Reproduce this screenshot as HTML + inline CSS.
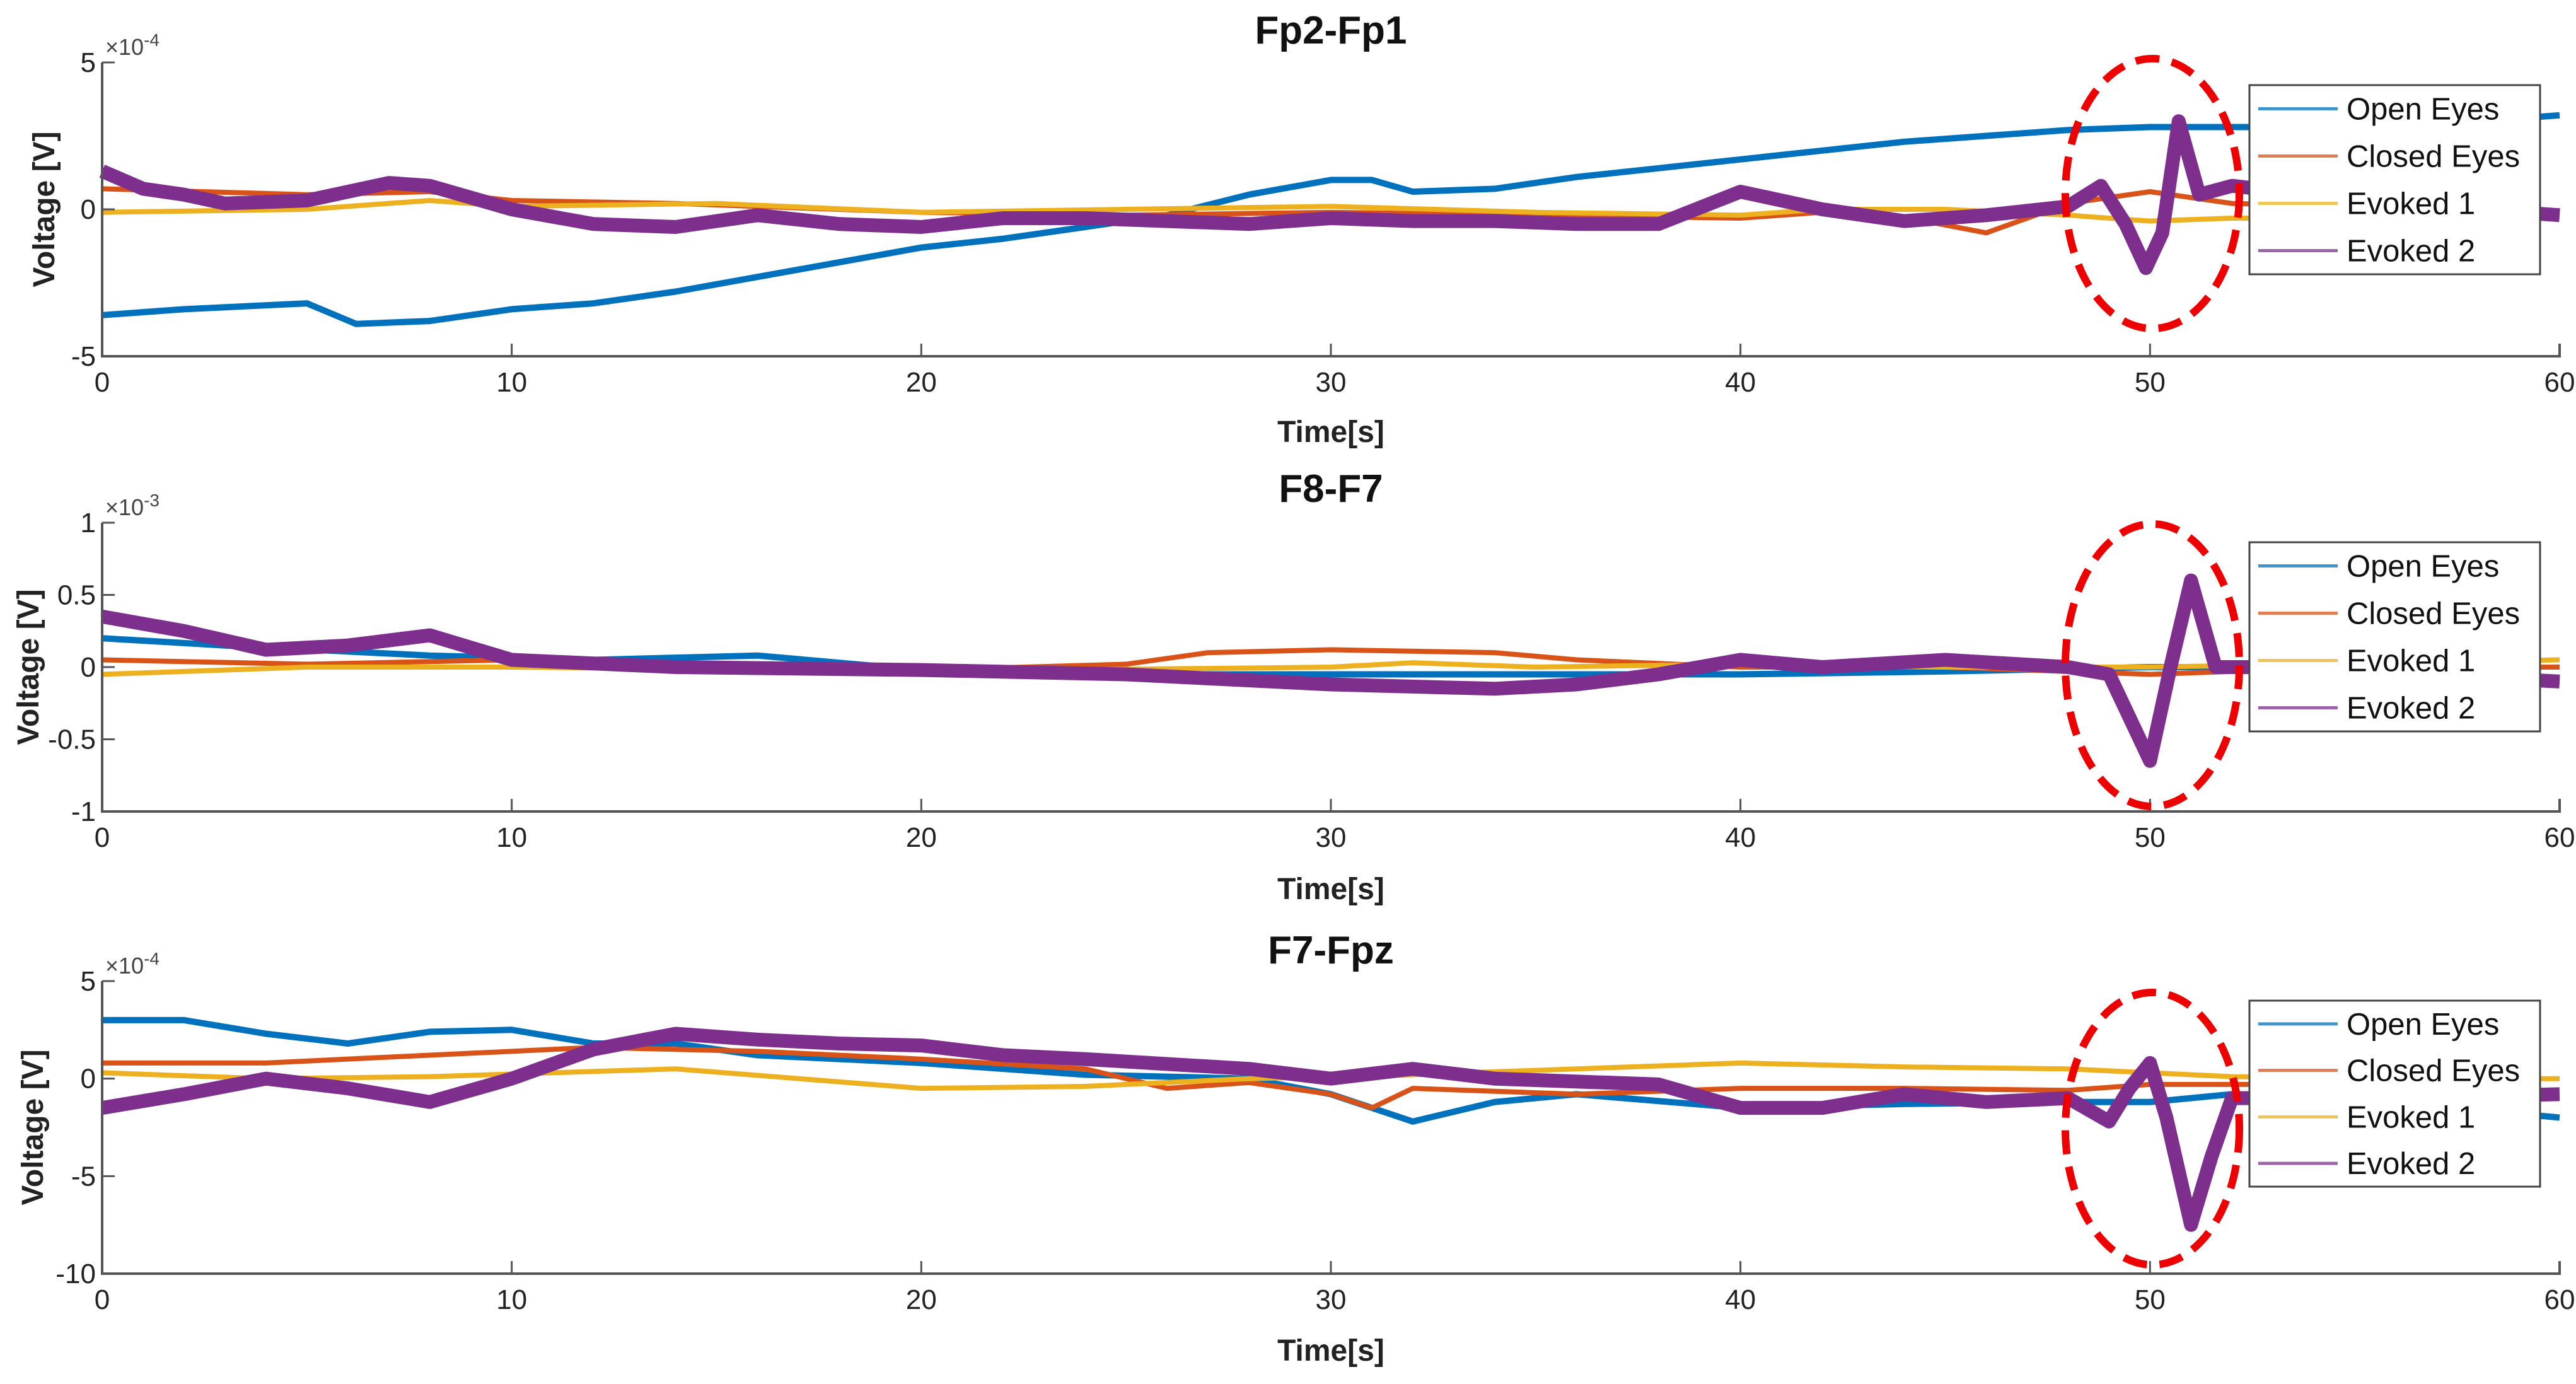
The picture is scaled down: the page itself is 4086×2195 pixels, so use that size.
<!DOCTYPE html>
<html><head><meta charset="utf-8"><style>
html,body{margin:0;padding:0;background:#fff}
svg{display:block;font-family:"Liberation Sans",sans-serif}
</style></head><body>
<svg id="c" width="4086" height="2195" viewBox="0 0 4086 2195"></svg>
<script>
// Panel 1: Fp2-Fp1 (x1e-4)
const p1OpenT=[0,2,5,6.2,8,10,12,14,16,18,20,22,24,26,28,30,31,32,34,36,38,40,42,44,46,48,50,52,54,56,58,60];
const p1OpenV=[-3.6,-3.4,-3.2,-3.9,-3.8,-3.4,-3.2,-2.8,-2.3,-1.8,-1.3,-1,-0.6,-0.2,0.5,1.0,1.0,0.6,0.7,1.1,1.4,1.7,2.0,2.3,2.5,2.7,2.8,2.8,2.8,2.9,3.0,3.2];
const p1ClosedT=[0,5,8,10,14,20,25,30,35,40,43,46,48,50,52,56,60];
const p1ClosedV=[0.7,0.5,0.6,0.3,0.2,-0.1,-0.2,-0.1,-0.2,-0.3,0,-0.8,0.2,0.6,0.2,0.1,-0.2];
const p1Ev1T=[0,5,8,10,15,20,25,30,35,40,42,45,48,50,52,56,60];
const p1Ev1V=[-0.1,0,0.3,0.1,0.2,-0.1,0,0.1,-0.1,-0.2,0,0,-0.2,-0.4,-0.3,-0.3,-0.2];
const p1Ev2T=[0,1,2,3,5,7,8,10,12,14,16,18,20,22,24,26,28,30,32,34,36,38,40,42,44,46,48,48.8,49.4,49.9,50.3,50.7,51.2,52,54,56,60];
const p1Ev2V=[1.3,0.7,0.5,0.2,0.3,0.9,0.8,0,-0.5,-0.6,-0.2,-0.5,-0.6,-0.3,-0.3,-0.4,-0.5,-0.3,-0.4,-0.4,-0.5,-0.5,0.6,0,-0.4,-0.2,0.1,0.8,-0.5,-2.0,-0.8,3.0,0.5,0.8,0.5,0.2,-0.2];
// Panel 2: F8-F7 (x1e-3)
const p2OpenT=[0,3,8,12,16,20,25,30,35,40,45,50,55,60];
const p2OpenV=[0.2,0.15,0.08,0.05,0.08,-0.02,-0.05,-0.05,-0.05,-0.05,-0.03,0,0,-0.1];
const p2ClosedT=[0,5,10,15,20,25,27,30,34,36,40,45,50,55,60];
const p2ClosedV=[0.05,0.02,0.05,0,-0.02,0.02,0.1,0.12,0.1,0.05,0,0,-0.05,0,0];
const p2Ev1T=[0,5,10,20,30,32,35,40,45,50,60];
const p2Ev1V=[-0.05,0,0,-0.03,0,0.03,0,0.02,0,0,0.05];
const p2Ev2T=[0,2,4,6,8,10,14,20,25,30,34,36,38,40,42,45,48,49,50,50.5,51,51.6,53,60];
const p2Ev2V=[0.35,0.25,0.12,0.15,0.22,0.05,0,-0.02,-0.05,-0.12,-0.15,-0.12,-0.05,0.05,0,0.05,0,-0.05,-0.65,0,0.6,0,0,-0.1];
// Panel 3: F7-Fpz (x1e-4)
const p3OpenT=[0,2,4,6,8,10,12,14,16,20,24,28,30,32,34,36,40,44,48,50,52,55,60];
const p3OpenV=[3,3,2.3,1.8,2.4,2.5,1.8,1.8,1.2,0.8,0.2,0,-0.8,-2.2,-1.2,-0.8,-1.5,-1.3,-1.2,-1.2,-0.8,-1,-2];
const p3ClosedT=[0,4,8,12,16,20,24,26,28,30,31,32,36,40,44,48,50,55,60];
const p3ClosedV=[0.8,0.8,1.2,1.6,1.4,1,0.5,-0.5,-0.2,-0.8,-1.5,-0.5,-0.8,-0.5,-0.5,-0.6,-0.3,-0.3,-1];
const p3Ev1T=[0,4,8,14,20,24,28,32,36,40,44,48,52,56,60];
const p3Ev1V=[0.3,0,0.1,0.5,-0.5,-0.4,0,0.2,0.5,0.8,0.6,0.5,0.1,0,0];
const p3Ev2T=[0,2,4,6,8,10,12,14,16,18,20,22,24,28,30,32,34,38,40,42,44,46,48,49,49.5,50,50.4,51,51.5,52,56,60];
const p3Ev2V=[-1.5,-0.8,0,-0.5,-1.2,0,1.5,2.3,2,1.8,1.7,1.2,1.0,0.5,0,0.5,0,-0.3,-1.5,-1.5,-0.8,-1.2,-1.0,-2.2,-0.5,0.8,-2,-7.5,-4,-1,-1,-0.8];

const xTicks=[0,10,20,30,40,50,60];
const legendNames=["Open Eyes","Closed Eyes","Evoked 1","Evoked 2"];
const colors=["#0072BD","#D95319","#EDB120","#7E2F8E"];
const widths=[10,8,8,22];

const panels=[
 {name:"fp2-fp1",title:"Fp2-Fp1",exp:"-4",top:99,bot:565,ymin:-5,ymax:5,yticks:[-5,0,5],ylx:70,
  series:[[p1OpenT,p1OpenV],[p1ClosedT,p1ClosedV],[p1Ev1T,p1Ev1V],[p1Ev2T,p1Ev2V]],tY:47,xlY:685,lg:[135,435],el:307,ery:214},
 {name:"f8-f7",title:"F8-F7",exp:"-3",top:829,bot:1287,ymin:-1,ymax:1,yticks:[-1,-0.5,0,0.5,1],ylx:45,
  series:[[p2OpenT,p2OpenV],[p2ClosedT,p2ClosedV],[p2Ev1T,p2Ev1V],[p2Ev2T,p2Ev2V]],tY:774,xlY:1410,lg:[860,1160],el:1055,ery:224},
 {name:"f7-fpz",title:"F7-Fpz",exp:"-4",top:1556,bot:2020,ymin:-10,ymax:5,yticks:[-10,-5,0,5],ylx:52,
  series:[[p3OpenT,p3OpenV],[p3ClosedT,p3ClosedV],[p3Ev1T,p3Ev1V],[p3Ev2T,p3Ev2V]],tY:1506,xlY:2142,lg:[1587,1882],el:1790,ery:216}
];
const svg=document.getElementById('c');
const NS="http://www.w3.org/2000/svg";
function mk(tag,attrs,parent,text){const e=document.createElementNS(NS,tag);for(const k in attrs)e.setAttribute(k,attrs[k]);if(text!==undefined)e.textContent=text;(parent||svg).appendChild(e);return e;}
const L=162,R=4060;
const xs=t=>L+(t-0)/(60-0)*(R-L);
panels.forEach(p=>{
 const g=mk('g',{});
 
 
 const ys=v=>p.bot-(v-p.ymin)/(p.ymax-p.ymin)*(p.bot-p.top);
 p.series.forEach((s,i)=>{
  const pts=s[0].map((t,j)=>xs(t).toFixed(1)+','+ys(s[1][j]).toFixed(1)).join(' ');
  const pl=mk('polyline',{points:pts,fill:'none',stroke:colors[i],'stroke-width':widths[i],'stroke-linejoin':'round'},g);
  
  
 });
 const ax=mk('path',{d:`M${L},${p.top} L${L},${p.bot} L${R},${p.bot} L${R},${p.bot-20}`,fill:'none',stroke:'#555','stroke-width':4},g);
 
 
 xTicks.forEach(t=>{
  mk('line',{x1:xs(t),x2:xs(t),y1:p.bot,y2:p.bot-20,stroke:'#555','stroke-width':3},g);
  const tl=mk('text',{x:xs(t),y:p.bot+56,'font-size':44,'text-anchor':'middle',fill:'#222'},g,String(t));
  
  
 });
 p.yticks.forEach(v=>{
  mk('line',{x1:L,x2:L+20,y1:ys(v),y2:ys(v),stroke:'#555','stroke-width':3},g);
  const tl=mk('text',{x:L-10,y:ys(v)+15,'font-size':44,'text-anchor':'end',fill:'#222'},g,String(v));
  
  
 });
 const ex=mk('text',{x:L+5,y:p.top-12,'font-size':36,fill:'#444'},g);
 
 
 ex.innerHTML='×10<tspan dy="-14" font-size="28">'+p.exp+'</tspan>';
 const ti=mk('text',{x:2111,y:p.tY+22,'font-size':62,'font-weight':'bold','text-anchor':'middle',fill:'#111'},g,p.title);
 
 
 const xl=mk('text',{x:2111,y:p.xlY+16,'font-size':48,'font-weight':'bold','text-anchor':'middle',fill:'#222'},g,'Time[s]');
 
 
 const ym=(p.top+p.bot)/2;
 const yl=mk('text',{x:p.ylx,y:ym,'font-size':48,'font-weight':'bold','text-anchor':'middle',fill:'#222',transform:`rotate(-90 ${p.ylx} ${ym})`,dy:16},g,'Voltage [V]');
 
 
 const el=mk('ellipse',{cx:3414,cy:p.el,rx:138,ry:p.ery,fill:'none',stroke:'#ee0000','stroke-width':12,'stroke-dasharray':'38 20'},g);
 
 
 const lg=mk('g',{},g);
 
 
 const [t0,t1]=p.lg;
 mk('rect',{x:3568,y:t0,width:461,height:t1-t0,fill:'#fff',stroke:'#444','stroke-width':3},lg);
 const step=(t1-t0)/4;
 legendNames.forEach((n,i)=>{
  const cy=t0+step*(i+0.5);
  const ent=mk('g',{},lg);
  
  
  mk('line',{x1:3582,x2:3708,y1:cy,y2:cy,stroke:colors[i],'stroke-width':5,opacity:0.75},ent);
  mk('text',{x:3722,y:cy+17,'font-size':49,fill:'#111'},ent,n);
 });
});
</script>
</body></html>
